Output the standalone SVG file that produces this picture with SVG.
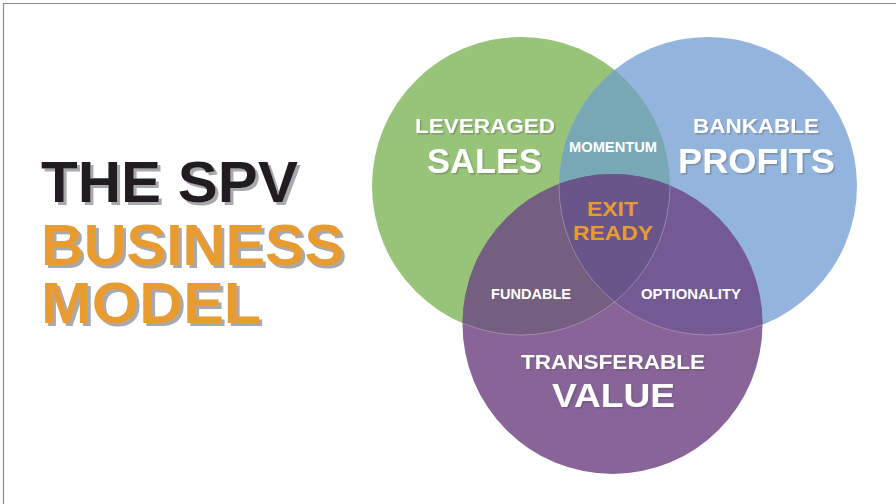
<svg xmlns="http://www.w3.org/2000/svg" width="896" height="504" viewBox="0 0 896 504">
  <style>
    .title { font-family: "Liberation Sans", Arial, sans-serif; font-weight: 700; font-size: 57px; filter: url(#titleShadow); }
    .dark { fill: #231f20; }
    .orange { fill: #e89b2f; }
    .lbl { font-family: "Liberation Sans", Arial, sans-serif; font-weight: 700; fill: #ffffff; text-anchor: middle; }
    .sh { filter: url(#labelShadow); }
    .gold { fill: #e89b2f; }
    .seam { fill: none; stroke: #ffffff; stroke-opacity: 0.35; stroke-width: 0.8; }
  </style>
  <defs>
    <clipPath id="clipGreen"><circle cx="521" cy="186" r="149"/></clipPath>
    <clipPath id="clipBlue"><circle cx="708" cy="186" r="149"/></clipPath>
    <clipPath id="clipPurple"><circle cx="612.5" cy="324" r="150"/></clipPath>
    <filter id="titleShadow" x="-5%" y="-20%" width="115%" height="150%">
      <feDropShadow dx="3" dy="3" stdDeviation="0" flood-color="#a7a9ac" flood-opacity="1"/>
    </filter>
    <filter id="labelShadow" x="-5%" y="-20%" width="115%" height="150%">
      <feDropShadow dx="1.5" dy="1.5" stdDeviation="0.3" flood-color="#4a4a4a" flood-opacity="0.35"/>
    </filter>
  </defs>

  <rect width="896" height="504" fill="#ffffff"/>
  <!-- frame -->
  <path d="M3.5,504 V3.5 H896" fill="none" stroke="#8a8a8a" stroke-width="1.2"/>

  <!-- title -->
  <g id="title" class="title">
    <text class="dark" x="41" y="202" textLength="257" lengthAdjust="spacingAndGlyphs">THE SPV</text>
    <text class="orange" x="41" y="265" textLength="303" lengthAdjust="spacingAndGlyphs">BUSINESS</text>
    <text class="orange" x="41" y="323" textLength="220" lengthAdjust="spacingAndGlyphs">MODEL</text>
  </g>

  <!-- venn circles -->
  <g id="leveraged-sales">
    <circle cx="521" cy="186" r="149" fill="#98c479"/>
  </g>
  <g id="bankable-profits">
    <circle cx="708" cy="186" r="149" fill="#93b4dd"/>
  </g>
  <g id="transferable-value">
    <circle cx="612.5" cy="324" r="150" fill="#886498"/>
  </g>

  <!-- overlaps -->
  <g id="momentum">
    <circle cx="708" cy="186" r="149" fill="#78a8b6" clip-path="url(#clipGreen)"/>
  </g>
  <g id="fundable">
    <circle cx="612.5" cy="324" r="150" fill="#745f80" clip-path="url(#clipGreen)"/>
  </g>
  <g id="optionality">
    <circle cx="612.5" cy="324" r="150" fill="#745a95" clip-path="url(#clipBlue)"/>
  </g>
  <g id="exit-ready">
    <g clip-path="url(#clipBlue)">
      <circle cx="612.5" cy="324" r="150" fill="#6a558a" clip-path="url(#clipGreen)"/>
    </g>
  </g>

  <!-- faint seams inside the purple circle -->
  <g clip-path="url(#clipPurple)">
    <circle class="seam" cx="521" cy="186" r="149"/>
    <circle class="seam" cx="708" cy="186" r="149"/>
  </g>

  <!-- labels -->
  <g id="labels">
    <text class="lbl sh" x="485" y="133" font-size="20.5" textLength="140" lengthAdjust="spacingAndGlyphs">LEVERAGED</text>
    <text class="lbl sh" x="484.5" y="173" font-size="35" textLength="115" lengthAdjust="spacingAndGlyphs">SALES</text>

    <text class="lbl sh" x="756" y="133" font-size="20.5" textLength="126" lengthAdjust="spacingAndGlyphs">BANKABLE</text>
    <text class="lbl sh" x="756.5" y="173" font-size="35" textLength="157" lengthAdjust="spacingAndGlyphs">PROFITS</text>

    <text class="lbl" x="613" y="152" font-size="14" textLength="88" lengthAdjust="spacingAndGlyphs">MOMENTUM</text>

    <text class="lbl gold" x="612.5" y="216" font-size="21" textLength="51" lengthAdjust="spacingAndGlyphs">EXIT</text>
    <text class="lbl gold" x="613" y="240" font-size="21" textLength="80" lengthAdjust="spacingAndGlyphs">READY</text>

    <text class="lbl" x="531" y="299" font-size="15" textLength="80" lengthAdjust="spacingAndGlyphs">FUNDABLE</text>
    <text class="lbl" x="691" y="299" font-size="15" textLength="100" lengthAdjust="spacingAndGlyphs">OPTIONALITY</text>

    <text class="lbl sh" x="613" y="369" font-size="21" textLength="184" lengthAdjust="spacingAndGlyphs">TRANSFERABLE</text>
    <text class="lbl sh" x="613.5" y="407" font-size="34" textLength="123" lengthAdjust="spacingAndGlyphs">VALUE</text>
  </g>
</svg>
